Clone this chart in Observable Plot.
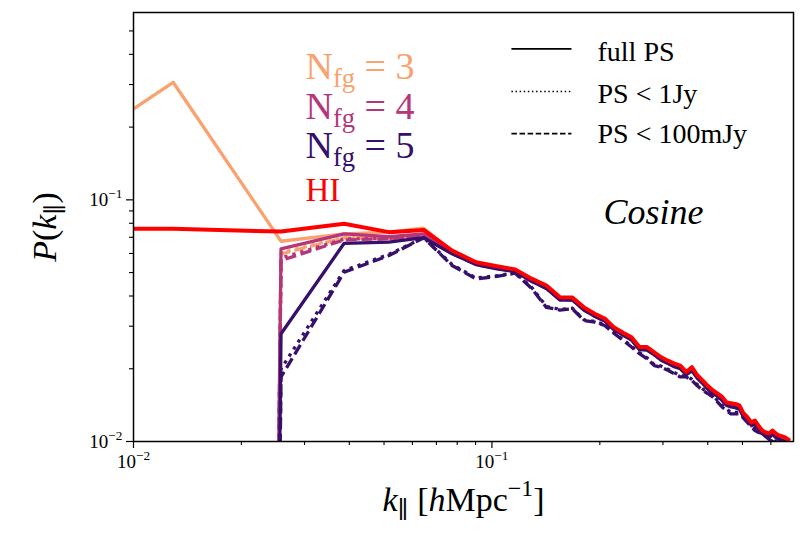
<!DOCTYPE html>
<html>
<head>
<meta charset="utf-8">
<script src="https://cdn.jsdelivr.net/npm/d3@7"></script>
<script src="https://cdn.jsdelivr.net/npm/@observablehq/plot@0.6"></script>
<style>
html,body{margin:0;padding:0;background:#fff;}
#chart svg text{white-space:pre;}
</style>
</head>
<body>
<div id="chart"></div>
<script>
// k_parallel bins [h Mpc^-1]; first entry is the left-edge sample (k = 0.01)
const kValues = [0.01, 0.0129, 0.0258, 0.0387, 0.0516, 0.0645, 0.0774, 0.0903, 0.1032, 0.1161, 0.1290,
  0.1419, 0.1548, 0.1677, 0.1806, 0.1935, 0.2064, 0.2193, 0.2322, 0.2451, 0.2580,
  0.2709, 0.2838, 0.2967, 0.3096, 0.3225, 0.3354, 0.3483, 0.3612, 0.3741, 0.3870,
  0.3999, 0.4128, 0.4257, 0.4386, 0.4515, 0.4644, 0.4773, 0.4902, 0.5031, 0.5160,
  0.5289, 0.5418, 0.5547, 0.5676, 0.5805, 0.5934, 0.6063, 0.6192, 0.6321, 0.6450,
  0.6579, 0.6708];

const hiSignal = [0.0759, 0.0759, 0.0739, 0.0796, 0.0735, 0.0751, 0.0617, 0.0552, 0.0531, 0.0515, 0.0472,
  0.0442, 0.0395, 0.0394, 0.0359, 0.0338, 0.0323, 0.0296, 0.0282, 0.0270, 0.0246,
  0.0246, 0.0234, 0.0223, 0.0216, 0.0210, 0.0206, 0.0194, 0.0203, 0.0188, 0.0179,
  0.0170, 0.0163, 0.0158, 0.0153, 0.0145, 0.0144, 0.0143, 0.0141, 0.0131, 0.0126,
  0.0120, 0.0122, 0.0116, 0.0111, 0.0109, 0.0108, 0.0111, 0.0108, 0.0106, 0.0105,
  0.0104, 0.0102];

const nfg3Full = [0.2379, 0.3066, 0.0674, 0.0723, 0.0735, 0.0763, 0.0612, 0.0549, 0.0528, 0.0512, 0.0469,
  0.0439, 0.0392, 0.0391, 0.0356, 0.0336, 0.0321, 0.0294, 0.0280, 0.0268, 0.0244,
  0.0244, 0.0232, 0.0221, 0.0214, 0.0208, 0.0204, 0.0192, 0.0201, 0.0186, 0.0177,
  0.0169, 0.0162, 0.0157, 0.0152, 0.0144, 0.0143, 0.0142, 0.0140, 0.0130, 0.0125,
  0.0119, 0.0121, 0.0115, 0.0110, 0.0108, 0.0107, 0.0110, 0.0107, 0.0105, 0.0104,
  0.0103, 0.0101];
const nfg3Below1Jy = [null, 1e-40, 0.0605, 0.0700, 0.0695, 0.0718, 0.0608, 0.0546, 0.0525, 0.0510, 0.0466,
  0.0436, 0.0390, 0.0389, 0.0354, 0.0334, 0.0319, 0.0293, 0.0279, 0.0266, 0.0243,
  0.0242, 0.0231, 0.0220, 0.0213, 0.0207, 0.0203, 0.0191, 0.0200, 0.0185, 0.0176,
  0.0168, 0.0161, 0.0156, 0.0151, 0.0143, 0.0142, 0.0141, 0.0139, 0.0129, 0.0124,
  0.0118, 0.0120, 0.0114, 0.0110, 0.0107, 0.0106, 0.0109, 0.0106, 0.0104, 0.0103,
  0.0102, 0.0100];
const nfg3Below100mJy = [null, 1e-40, 0.0598, 0.0697, 0.0690, 0.0711, 0.0605, 0.0543, 0.0522, 0.0507, 0.0463,
  0.0433, 0.0388, 0.0387, 0.0352, 0.0332, 0.0317, 0.0291, 0.0277, 0.0265, 0.0242,
  0.0241, 0.0230, 0.0219, 0.0212, 0.0206, 0.0202, 0.0190, 0.0199, 0.0184, 0.0175,
  0.0167, 0.0160, 0.0155, 0.0150, 0.0142, 0.0141, 0.0140, 0.0138, 0.0128, 0.0123,
  0.0117, 0.0119, 0.0113, 0.0109, 0.0106, 0.0105, 0.0108, 0.0105, 0.0103, 0.0102,
  0.0101, 0.0099];

const nfg4Full = [null, 1e-40, 0.0627, 0.0723, 0.0705, 0.0723, 0.0608, 0.0546, 0.0525, 0.0510, 0.0466,
  0.0436, 0.0390, 0.0389, 0.0354, 0.0334, 0.0319, 0.0293, 0.0279, 0.0266, 0.0243,
  0.0242, 0.0231, 0.0220, 0.0213, 0.0207, 0.0203, 0.0191, 0.0200, 0.0185, 0.0176,
  0.0168, 0.0161, 0.0156, 0.0151, 0.0143, 0.0142, 0.0141, 0.0139, 0.0129, 0.0124,
  0.0118, 0.0120, 0.0114, 0.0110, 0.0107, 0.0106, 0.0109, 0.0106, 0.0104, 0.0103,
  0.0102, 0.0100];
const nfg4Below1Jy = [null, 1e-40, 0.0575, 0.0688, 0.0693, 0.0714, 0.0605, 0.0543, 0.0522, 0.0507, 0.0463,
  0.0433, 0.0388, 0.0387, 0.0352, 0.0332, 0.0317, 0.0291, 0.0277, 0.0265, 0.0242,
  0.0241, 0.0230, 0.0219, 0.0212, 0.0206, 0.0202, 0.0190, 0.0199, 0.0184, 0.0175,
  0.0167, 0.0160, 0.0155, 0.0150, 0.0142, 0.0141, 0.0140, 0.0138, 0.0128, 0.0123,
  0.0117, 0.0119, 0.0113, 0.0109, 0.0106, 0.0105, 0.0108, 0.0105, 0.0103, 0.0102,
  0.0101, 0.0099];
const nfg4Below100mJy = [null, 1e-40, 0.0561, 0.0683, 0.0690, 0.0711, 0.0600, 0.0540, 0.0520, 0.0505, 0.0460,
  0.0430, 0.0386, 0.0385, 0.0350, 0.0330, 0.0315, 0.0290, 0.0276, 0.0264, 0.0241,
  0.0240, 0.0229, 0.0218, 0.0211, 0.0205, 0.0201, 0.0189, 0.0198, 0.0183, 0.0174,
  0.0166, 0.0159, 0.0154, 0.0149, 0.0141, 0.0140, 0.0139, 0.0137, 0.0127, 0.0122,
  0.0116, 0.0118, 0.0112, 0.0108, 0.0105, 0.0104, 0.0107, 0.0104, 0.0102, 0.0101,
  0.0100, 0.0098];

const nfg5Full = [null, 1e-40, 0.0279, 0.0661, 0.0668, 0.0697, 0.0598, 0.0540, 0.0518, 0.0505, 0.0460,
  0.0430, 0.0385, 0.0385, 0.0350, 0.0330, 0.0315, 0.0290, 0.0276, 0.0263, 0.0240,
  0.0239, 0.0228, 0.0217, 0.0210, 0.0204, 0.0200, 0.0189, 0.0196, 0.0183, 0.0174,
  0.0165, 0.0158, 0.0154, 0.0148, 0.0141, 0.0139, 0.0138, 0.0136, 0.0127, 0.0122,
  0.0117, 0.0118, 0.0112, 0.0108, 0.0105, 0.0104, 0.0107, 0.0104, 0.0102, 0.0101,
  0.0100, 0.0098];
const nfg5Below1Jy = [null, 1e-40, 0.0200, 0.0510, 0.0595, 0.0697, 0.0540, 0.0475, 0.0485, 0.0499, 0.0435,
  0.0362, 0.0352, 0.0356, 0.0319, 0.0314, 0.0304, 0.0282, 0.0264, 0.0248, 0.0233,
  0.0222, 0.0208, 0.0205, 0.0199, 0.0193, 0.0187, 0.0187, 0.0181, 0.0172, 0.0165,
  0.0160, 0.0155, 0.0148, 0.0141, 0.0136, 0.0132, 0.0132, 0.0132, 0.0127, 0.0122,
  0.0117, 0.0113, 0.0111, 0.0110, 0.0107, 0.0104, 0.0102, 0.0100, 0.0098, 0.0097,
  0.0096, 0.0095];
const nfg5Below100mJy = [null, 1e-40, 0.0185, 0.0502, 0.0588, 0.0697, 0.0535, 0.0471, 0.0482, 0.0497, 0.0430,
  0.0359, 0.0350, 0.0354, 0.0317, 0.0312, 0.0302, 0.0280, 0.0262, 0.0246, 0.0231,
  0.0220, 0.0206, 0.0203, 0.0197, 0.0191, 0.0185, 0.0185, 0.0179, 0.0170, 0.0163,
  0.0158, 0.0153, 0.0146, 0.0139, 0.0134, 0.0130, 0.0130, 0.0130, 0.0125, 0.0120,
  0.0115, 0.0111, 0.0109, 0.0108, 0.0105, 0.0102, 0.0100, 0.0098, 0.0096, 0.0095,
  0.0094, 0.0093];

const seriesLabels = ["N_{fg} = 3", "N_{fg} = 4", "N_{fg} = 5", "HI"];
const psLabels = ["full PS", "PS < 1Jy", "PS < 100mJy"];
const xMajorTicks = [0.01, 0.1];
const xTickLabels = ["10^{\u22122}", "10^{\u22121}"];
const xMinorTicks = [0.02, 0.03, 0.04, 0.05, 0.06, 0.07, 0.08, 0.09, 0.2, 0.3, 0.4, 0.5, 0.6];
const yMajorTicks = [0.01, 0.1];
const yTickLabels = ["10^{\u22122}", "10^{\u22121}"];
const yMinorTicks = [0.02, 0.03, 0.04, 0.05, 0.06, 0.07, 0.08, 0.09, 0.2, 0.3, 0.4, 0.5];

// ---- styles & layout ----
const colors = ["#f9a26f", "#b5367a", "#36106b", "#ff0000"];
const dashes = [null, "3.3,5", "11,4.8"];
const plotLines = [
  [nfg3Full, 0, 0], [nfg3Below1Jy, 0, 1], [nfg3Below100mJy, 0, 2],
  [nfg4Full, 1, 0], [nfg4Below1Jy, 1, 1], [nfg4Below100mJy, 1, 2],
  [nfg5Full, 2, 0], [nfg5Below1Jy, 2, 1], [nfg5Below100mJy, 2, 2],
  [hiSignal, 3, 0]
];
const layout = {
  seriesLabelDx: 172, seriesLabelDy: [66, 106, 145, 188], seriesLabelSize: [38, 38, 38, 33],
  legendX1: 0.1137, legendX2: 0.1672, legendY: [0.4213, 0.2806, 0.1880],
  legendTextDx: 464, legendTextDy: [48, 90, 130], legendSize: 28,
  legendDashes: [null, "1.5,2.6", "5.5,2.6"],
  cosineDx: 470, cosineDy: 211
};
const serif = "'Liberation Serif', 'DejaVu Serif', serif";

const lineMarks = plotLines.map(([vals, c, d]) => Plot.line(kValues, {
  x: kValues, y: vals, stroke: colors[c],
  strokeWidth: c === 3 ? 4 : 3.3,
  ...(dashes[d] ? {strokeDasharray: dashes[d], strokeLinecap: "butt"} : {strokeLinecap: "square"}),
  strokeLinejoin: "round", clip: true
}));

const seriesTextMarks = seriesLabels.map((lab, i) => Plot.text([lab], {
  text: d => d, frameAnchor: "top-left", dx: layout.seriesLabelDx, dy: layout.seriesLabelDy[i],
  textAnchor: "start", lineAnchor: "bottom", fill: colors[i], fontSize: layout.seriesLabelSize[i]
}));

const legendRuleMarks = psLabels.map((lab, i) => Plot.ruleY([layout.legendY[i]], {
  x1: layout.legendX1, x2: layout.legendX2, stroke: "black", strokeWidth: 1.6,
  ...(layout.legendDashes[i] ? {strokeDasharray: layout.legendDashes[i]} : {})
}));
const legendTextMarks = psLabels.map((lab, i) => Plot.text([lab], {
  text: d => d, frameAnchor: "top-left", dx: layout.legendTextDx, dy: layout.legendTextDy[i],
  textAnchor: "start", lineAnchor: "bottom", fill: "black", fontSize: layout.legendSize
}));

const chart = Plot.plot({
  width: 807, height: 534,
  marginLeft: 133, marginRight: 14, marginTop: 12, marginBottom: 93,
  x: {type: "log", domain: [0.01, 0.694]},
  y: {type: "log", domain: [0.01, 0.596]},
  style: {fontFamily: serif, background: "white", color: "black", overflow: "visible"},
  marks: [
    ...lineMarks,
    Plot.frame({stroke: "black", strokeWidth: 1.5}),
    Plot.axisX(xMinorTicks, {tickSize: 4, tickFormat: () => "", label: null, strokeWidth: 1.1}),
    Plot.axisX(xMajorTicks, {tickSize: 7, tickPadding: 6, fontSize: 19, label: null, strokeWidth: 1.2,
      tickFormat: d => xTickLabels[xMajorTicks.indexOf(d)]}),
    Plot.axisY(yMinorTicks, {tickSize: 4, tickFormat: () => "", label: null, strokeWidth: 1.1}),
    Plot.axisY(yMajorTicks, {tickSize: 7, tickPadding: 4, fontSize: 19, label: null, strokeWidth: 1.2,
      tickFormat: d => yTickLabels[yMajorTicks.indexOf(d)]}),
    ...seriesTextMarks,
    ...legendRuleMarks,
    ...legendTextMarks,
    Plot.text(["*Cosine*"], {text: d => d, frameAnchor: "top-left", dx: layout.cosineDx, dy: layout.cosineDy,
      textAnchor: "start", lineAnchor: "bottom", fontSize: 36, fill: "black"}),
    Plot.text(["*k*_{\u2225} [*h*Mpc^{\u22121}]"], {text: d => d, frameAnchor: "bottom", dy: 69,
      textAnchor: "middle", lineAnchor: "bottom", fontSize: 34, fill: "black"}),
    Plot.text(["*P*(*k*_{\u2225})"], {text: d => d, frameAnchor: "left", dx: -78, rotate: -90,
      textAnchor: "middle", lineAnchor: "bottom", fontSize: 34, fill: "black"})
  ]
});
document.getElementById("chart").appendChild(chart);

// turn the small markup (_{..} sub, ^{..} sup, *..* italic) into SVG tspans
function richify(el) {
  const markup = el.textContent;
  if (!/[_^]\{|\*/.test(markup)) return;
  const fs = parseFloat(getComputedStyle(el).fontSize) || 16;
  const sel = d3.select(el);
  sel.selectAll("*").remove();
  sel.text(null);
  const parts = markup.split(/(_\{[^}]*\}|\^\{[^}]*\}|\*[^*]*\*)/).filter(p => p);
  let shift = 0;
  for (const p of parts) {
    let txt = p, off = 0, size = null, italic = false;
    if (p.startsWith("_{")) { txt = p.slice(2, -1); off = 0.22 * fs; size = 0.7 * fs; }
    else if (p.startsWith("^{")) { txt = p.slice(2, -1); off = -0.42 * fs; size = 0.7 * fs; }
    else if (p.startsWith("*")) { txt = p.slice(1, -1); italic = true; }
    const t = sel.append("tspan").text(txt);
    if (off - shift) t.attr("dy", off - shift);
    shift = off;
    if (size) t.attr("font-size", size);
    if (italic) t.attr("font-style", "italic").attr("font-family", serif);
  }
}
d3.select(chart).selectAll("text").each(function () { richify(this); });
</script>
</body>
</html>
